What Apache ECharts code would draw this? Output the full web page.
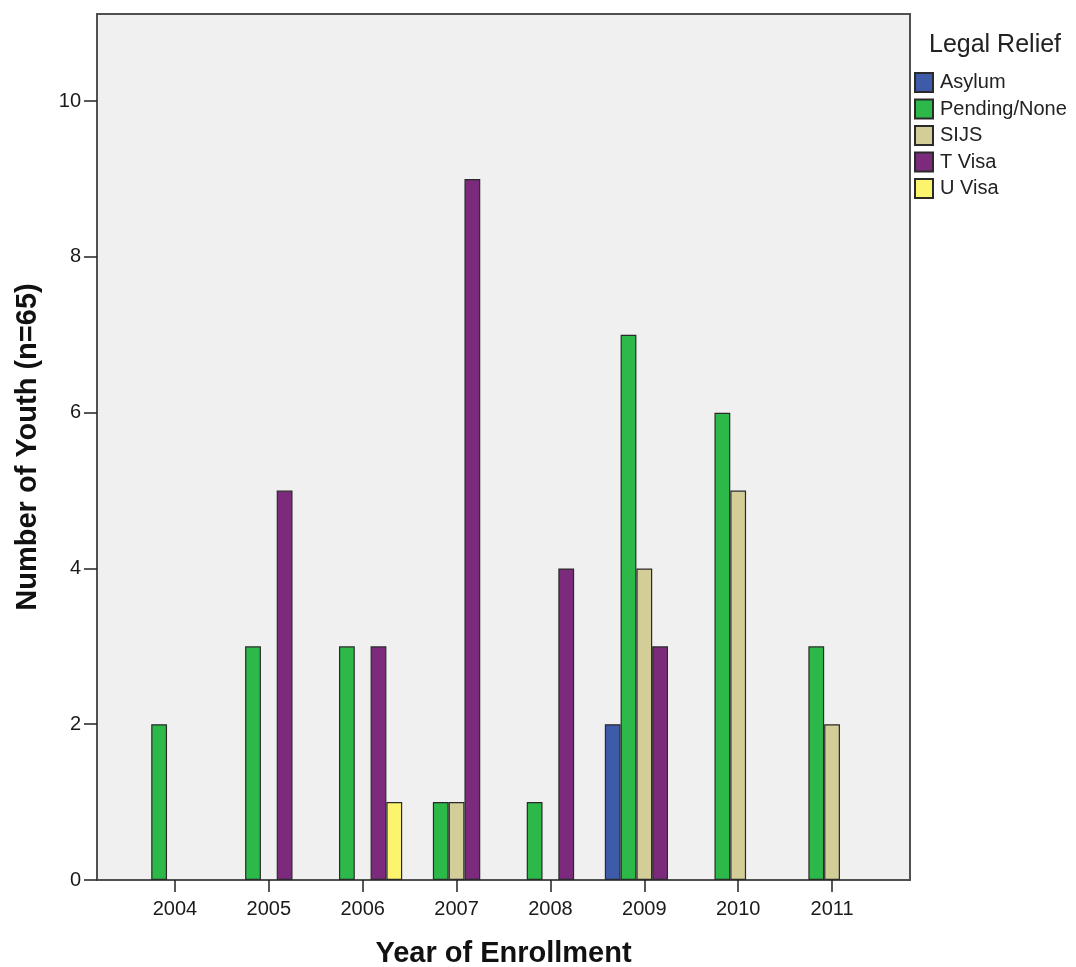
<!DOCTYPE html>
<html>
<head>
<meta charset="utf-8">
<script src="https://cdn.jsdelivr.net/npm/echarts@6/dist/echarts.min.js"></script>
<style>html,body{margin:0;padding:0;background:#fff;}#c{width:1076px;height:967px;}</style>
</head>
<body>
<div id="c"></div>
<script>
const years = ['2004','2005','2006','2007','2008','2009','2010','2011'];
const asylum  = [null, null, null, null, null, 2, null, null];
const pending = [2, 3, 3, 1, 1, 7, 6, 3];
const sijs    = [null, null, null, 1, null, 4, 5, 2];
const tVisa   = [null, 5, 3, 9, 4, 3, null, null];
const uVisa   = [null, null, 1, null, null, null, null, null];
const yTicks  = [0, 2, 4, 6, 8, 10];
const seriesNames = ['Asylum', 'Pending/None', 'SIJS', 'T Visa', 'U Visa'];
const seriesData = [asylum, pending, sijs, tVisa, uVisa];
const colors = ['#3e5ba9', '#2db84a', '#d3ce97', '#7b2a7c', '#fdf46e'];

const FONT = 'Liberation Sans, Arial, sans-serif';
const YMAX = 11.12;

const chart = echarts.init(document.getElementById('c'), null, {renderer: 'canvas'});
const option = {
  animation: false,
  backgroundColor: '#ffffff',
  title: {
    text: 'Legal Relief', left: 924, top: 28,
    textStyle: {fontFamily: FONT, fontSize: 25, fontWeight: 'normal', color: '#222'}
  },
  legend: {
    orient: 'vertical', left: 909, top: 67,
    itemWidth: 18, itemHeight: 19, itemGap: 5.5,
    icon: 'rect',
    data: seriesNames,
    textStyle: {fontFamily: FONT, fontSize: 20, color: '#222', padding: [0,0,0,2]}
  },
  grid: [
    {left: 97, right: 166, top: 14, bottom: 87, show: true, backgroundColor: '#f0f0f0', borderColor: '#505050', borderWidth: 2, outerBoundsMode: 'none', containLabel: false},
    {left: 128, right: 197, top: 14, bottom: 87, show: false, outerBoundsMode: 'none', containLabel: false}
  ],
  xAxis: [
    {type: 'value', gridIndex: 0, min: 0, max: 1, show: false},
    {
      type: 'category', gridIndex: 1, data: years,
      axisLine: {show: false},
      axisTick: {show: true, alignWithLabel: true, length: 12, lineStyle: {color: '#222', width: 1.5}},
      axisLabel: {fontFamily: FONT, fontSize: 20, color: '#1a1a1a', margin: 19},
      name: 'Year of Enrollment', nameLocation: 'middle', nameGap: 59,
      nameTextStyle: {fontFamily: FONT, fontSize: 29, fontWeight: 'bold', color: '#111'}
    }
  ],
  yAxis: [
    {
      type: 'value', gridIndex: 0, min: 0, max: YMAX,
      axisLine: {show: false},
      splitLine: {show: false},
      axisTick: {show: true, length: 13, customValues: yTicks, lineStyle: {color: '#222', width: 1.5}},
      axisLabel: {fontFamily: FONT, fontSize: 20, color: '#1a1a1a', margin: 16, customValues: yTicks},
      name: 'Number of Youth (n=65)', nameLocation: 'middle', nameGap: 55, nameRotate: 90,
      nameTextStyle: {fontFamily: FONT, fontSize: 29, fontWeight: 'bold', color: '#111'}
    },
    {type: 'value', gridIndex: 1, min: 0, max: YMAX, show: false, splitLine: {show: false}}
  ],
  series: seriesNames.map((name, i) => ({
    name: name, type: 'bar', xAxisIndex: 1, yAxisIndex: 1,
    data: seriesData[i],
    barWidth: 15.8, barGap: '0%',
    itemStyle: {color: colors[i], borderColor: '#2a2a2a', borderWidth: 1.2}
  }))
};
chart.setOption(option);
</script>
</body>
</html>
